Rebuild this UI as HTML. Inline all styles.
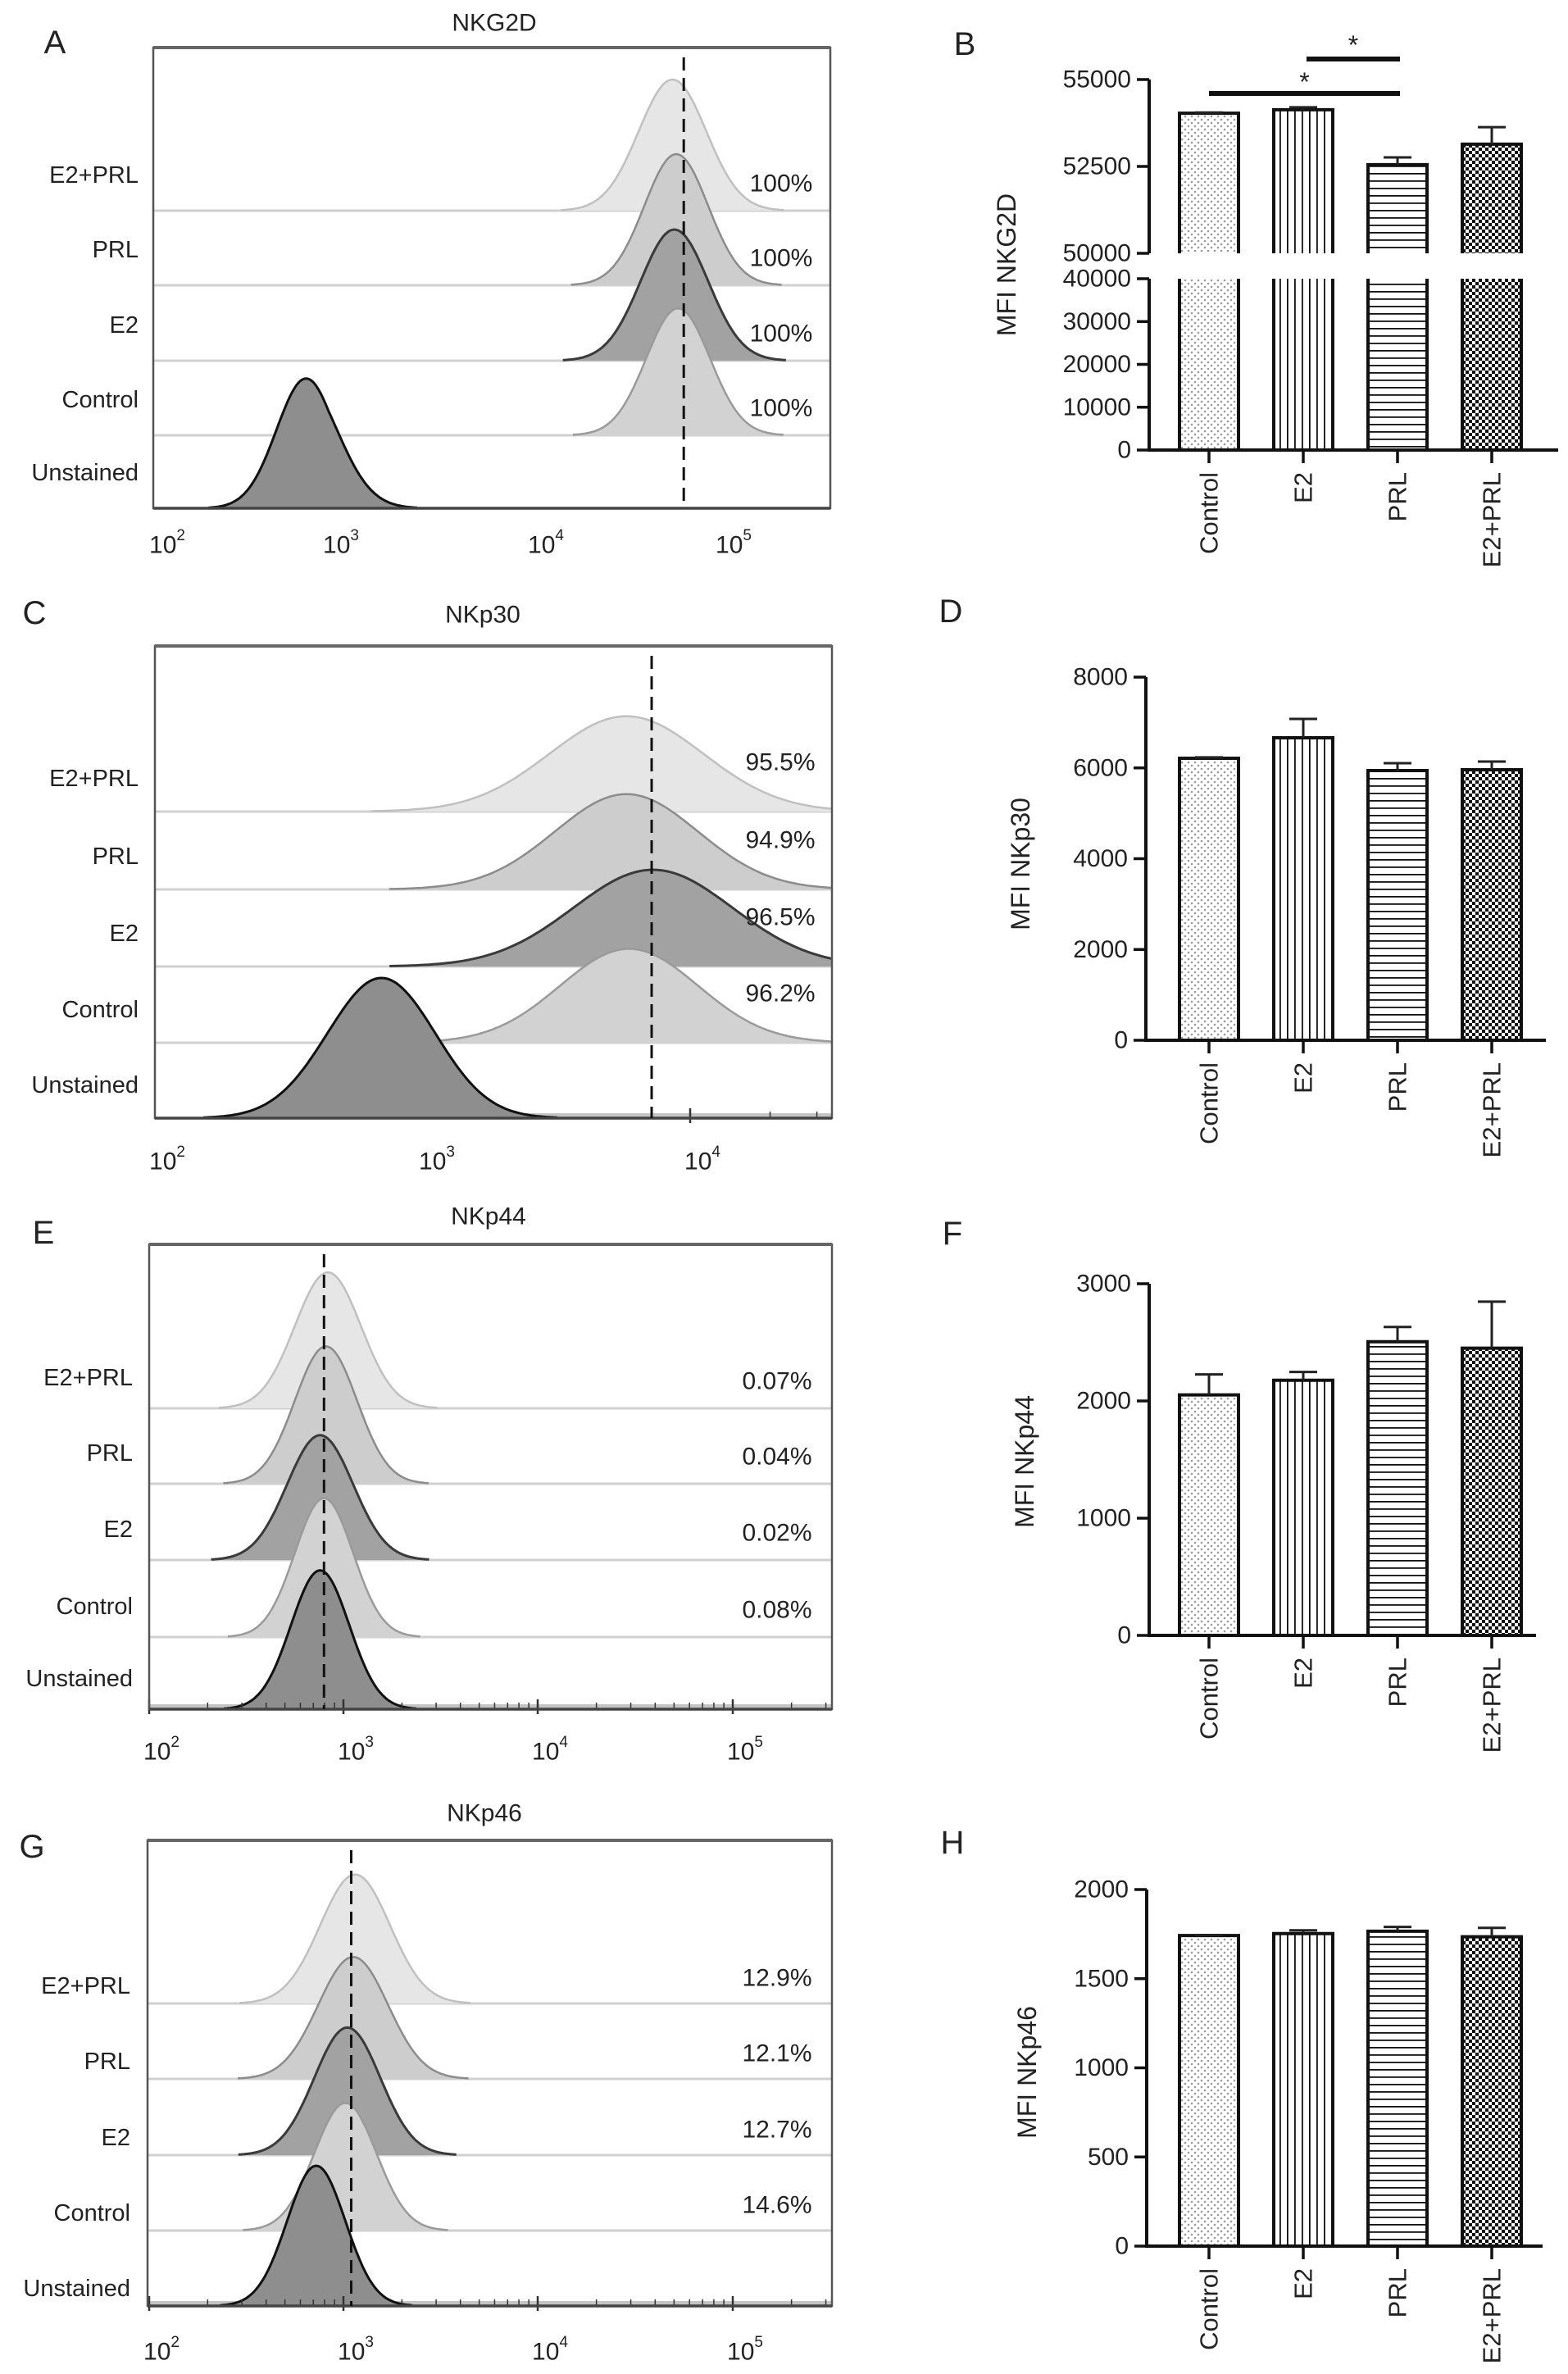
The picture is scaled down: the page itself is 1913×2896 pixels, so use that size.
<!DOCTYPE html>
<html><head><meta charset="utf-8"><style>
html,body{margin:0;padding:0;background:#fff}
svg{display:block;font-family:"Liberation Sans",Arial,sans-serif}
</style></head><body>
<svg id="fig" width="1913" height="2896" viewBox="0 0 1913 2896" xmlns="http://www.w3.org/2000/svg">
<defs>
<pattern id="pDots" width="8" height="8" patternUnits="userSpaceOnUse"><rect width="8" height="8" fill="#fff"/><circle cx="2" cy="2" r="1.3" fill="#999"/><circle cx="6" cy="6" r="1.3" fill="#999"/></pattern>
<pattern id="pV" width="9" height="9" patternUnits="userSpaceOnUse"><rect width="9" height="9" fill="#fff"/><rect x="4" width="1.8" height="9" fill="#111"/></pattern>
<pattern id="pH" width="9" height="9" patternUnits="userSpaceOnUse"><rect width="9" height="9" fill="#fff"/><rect y="4" width="9" height="1.8" fill="#111"/></pattern>
<pattern id="pC" width="8" height="8" patternUnits="userSpaceOnUse"><rect width="8" height="8" fill="#fff"/><rect width="4" height="4" fill="#111"/><rect x="4" y="4" width="4" height="4" fill="#111"/></pattern>
</defs>
</svg>
<script>
// ---------- data ----------
const categories = ['Control','E2','PRL','E2+PRL'];
const nkg2dMFI = [54030, 54130, 52550, 53140];
const nkg2dErr = [20, 70, 210, 490];
const nkp30MFI = [6212, 6664, 5941, 5960];
const nkp30Err = [20, 415, 163, 180];
const nkp44MFI = [2052, 2177, 2505, 2450];
const nkp44Err = [174, 70, 126, 397];
const nkp46MFI = [1742, 1753, 1766, 1735];
const nkp46Err = [3, 18, 24, 50];

const histRows = ['E2+PRL','PRL','E2','Control','Unstained'];
const nkg2dCenters = [4.74, 4.76, 4.75, 4.77, 2.87];
const nkg2dSpread = [0.18, 0.17, 0.18, 0.17, 0.17];
const nkg2dPeaks = [0.93, 0.93, 0.93, 0.90, 0.92];
const nkg2dPct = ['100%','100%','100%','100%'];
const nkg2dGate = 4.80;
const nkp30Centers = [3.76, 3.76, 3.86, 3.77, 2.84];
const nkp30Spread = [0.29, 0.27, 0.30, 0.26, 0.20];
const nkp30Peaks = [0.68, 0.68, 0.69, 0.67, 1.0];
const nkp30Pct = ['95.5%','94.9%','96.5%','96.2%'];
const nkp30Gate = 3.855;
const nkp44Centers = [2.92, 2.91, 2.88, 2.90, 2.88];
const nkp44Spread = [0.17, 0.16, 0.17, 0.15, 0.15];
const nkp44Peaks = [0.97, 0.98, 0.89, 0.99, 0.99];
const nkp44Pct = ['0.07%','0.04%','0.02%','0.08%'];
const nkp44Gate = 2.90;
const nkp46Centers = [3.06, 3.05, 3.02, 3.01, 2.86];
const nkp46Spread = [0.18, 0.18, 0.17, 0.16, 0.15];
const nkp46Peaks = [0.92, 0.87, 0.91, 0.91, 1.0];
const nkp46Pct = ['12.9%','12.1%','12.7%','14.6%'];
const nkp46Gate = 3.04;

const svg = document.getElementById('fig');
const NS = 'http://www.w3.org/2000/svg';
function mk(tag, attrs, parent){
  const e = document.createElementNS(NS, tag);
  for (const k in attrs) e.setAttribute(k, attrs[k]);
  (parent||svg).appendChild(e);
  return e;
}
function txt(s, x, y, size, anchor, parent){
  const t = mk('text', {x:x, y:y, 'font-size':size, 'text-anchor':anchor||'middle', 'dominant-baseline':'central', fill:'#222'}, parent);
  t.textContent = s;
  return t;
}

const rowFill = ['#e6e6e6','#cdcdcd','#a2a2a2','#d2d2d2','#8e8e8e'];
const rowStroke = ['#c0c0c0','#8c8c8c','#3a3a3a','#9a9a9a','#111'];
let clipN = 0;

// ---------- histogram panel ----------
function histPanel(cfg){
  const g = mk('g', {});
  
  
  const xs = cfg.decadeX, d0 = cfg.decade0;
  function X(lv){
    let i = Math.floor(lv - d0);
    if (i < 0) i = 0;
    if (i > xs.length - 2) i = xs.length - 2;
    return xs[i] + (lv - d0 - i) * (xs[i+1] - xs[i]);
  }
  const L = cfg.box[0], T = cfg.box[1], R = cfg.box[2], B = cfg.box[3];
  const cid = 'clip' + (clipN++);
  const cp = mk('clipPath', {id:cid}, svg.querySelector('defs'));
  mk('rect', {x:L, y:T, width:R-L, height:B-T}, cp);
  const inner = mk('g', {'clip-path':'url(#'+cid+')'}, g);
  const baselines = cfg.baselines;
  for (let r = 0; r < 4; r++){
    const ln = mk('line', {x1:L, x2:R, y1:baselines[r], y2:baselines[r], stroke:'#d0d0d0', 'stroke-width':3}, inner);
    
    
  }
  if (cfg.band){
    mk('rect', {x:X(cfg.band), y:B-6, width:R-X(cfg.band), height:6, fill:'#c4c4c4'}, inner);
    for (let d = Math.ceil(cfg.band); d < 6; d++){
      for (let m = 1; m < 10; m++){
        const lv = d + Math.log10(m);
        if (lv < cfg.band) continue;
        const x = X(lv);
        if (x > R) continue;
        mk('line', {x1:x, x2:x, y1:B-(m===1?12:8), y2:B+(m===1?6:0), stroke:'#333', 'stroke-width':m===1?2.5:1.5}, g);
      }
    }
  }
  for (let r = 0; r < 5; r++){
    const c = cfg.centers[r], s = cfg.spread[r], p = cfg.peaks[r] * cfg.peakPx;
    const by = r < 4 ? baselines[r] : B;
    let d = '';
    const lo = c - 3.3*s, hi = c + 3.3*s;
    const n = 120;
    for (let k = 0; k <= n; k++){
      const lv = lo + (hi-lo)*k/n;
      const z = (lv - c)/s;
      const y = by - p*Math.exp(-0.5*z*z);
      d += (k===0 ? 'M' : 'L') + X(lv).toFixed(1) + ',' + y.toFixed(1);
    }
    const area = mk('path', {d: d + 'L' + X(hi).toFixed(1) + ',' + by + 'L' + X(lo).toFixed(1) + ',' + by + 'Z', fill:rowFill[r], stroke:'none'}, inner);
    
    
    mk('path', {d:d, fill:'none', stroke:rowStroke[r], 'stroke-width': r>=2 && r!==3 ? 3 : 2.5}, inner);
  }
  const box = mk('rect', {x:L, y:T, width:R-L, height:B-T, fill:'none', stroke:'#555', 'stroke-width':2.5}, g);
  
  
  mk('line', {x1:L, x2:R, y1:T, y2:T, stroke:'#666', 'stroke-width':4}, g);
  mk('line', {x1:L, x2:R, y1:B, y2:B, stroke:'#444', 'stroke-width':3.5}, g);
  const gx = X(cfg.gate);
  const gl = mk('line', {x1:gx, x2:gx, y1:T+12, y2:B, stroke:'#111', 'stroke-width':3, 'stroke-dasharray':'16 9'}, g);
  
  
  for (let r = 0; r < 5; r++){
    const by = r < 4 ? baselines[r] : B;
    const t = txt(histRows[r], cfg.labelRight, by + cfg.labelOff, 29, 'end', g);
    
    
  }
  for (let r = 0; r < 4; r++){
    const t = txt(cfg.pct[r], cfg.pctX, baselines[r] + cfg.pctOff, 30, 'middle', g);
    
    
  }
  for (let i = 0; i < xs.length; i++){
    const t = mk('text', {x:xs[i]+15, y:cfg.tickY, 'font-size':30, 'text-anchor':'middle', 'dominant-baseline':'central', fill:'#222'}, g);
    
    
    t.appendChild(document.createTextNode('10'));
    const sp = document.createElementNS(NS, 'tspan');
    sp.setAttribute('font-size', 19);
    sp.setAttribute('dy', -12);
    sp.textContent = String(d0 + i);
    t.appendChild(sp);
  }
  const tt = txt(cfg.title, cfg.titleXY[0], cfg.titleXY[1], 30, 'middle', g);
  
  
  const lt = txt(cfg.letter, cfg.letterXY[0], cfg.letterXY[1], 40, 'middle', g);
  
  
}

histPanel({name:'panel-a-nkg2d-histogram', letter:'A', letterXY:[67,52], title:'NKG2D', titleXY:[603,28],
  box:[187,58,1013,620], baselines:[257,348,440,531], decade0:2, decadeX:[189,401,651,880],
  centers:nkg2dCenters, spread:nkg2dSpread, peaks:nkg2dPeaks, peakPx:172, pct:nkg2dPct, gate:nkg2dGate,
  labelRight:169, labelOff:-43, pctX:953, pctOff:-33, tickY:665, band:null});
histPanel({name:'panel-c-nkp30-histogram', letter:'C', letterXY:[42,748], title:'NKp30', titleXY:[589,750],
  box:[189,788,1015,1364], baselines:[990,1085,1179,1272], decade0:2, decadeX:[189,518,842],
  centers:nkp30Centers, spread:nkp30Spread, peaks:nkp30Peaks, peakPx:171, pct:nkp30Pct, gate:nkp30Gate,
  labelRight:169, labelOff:-40, pctX:952, pctOff:-60, tickY:1417, band:3.3});
histPanel({name:'panel-e-nkp44-histogram', letter:'E', letterXY:[53,1504], title:'NKp44', titleXY:[596,1484],
  box:[182,1518,1015,2085], baselines:[1718,1810,1903,1997], decade0:2, decadeX:[182,419,656,894],
  centers:nkp44Centers, spread:nkp44Spread, peaks:nkp44Peaks, peakPx:171, pct:nkp44Pct, gate:nkp44Gate,
  labelRight:162, labelOff:-37, pctX:948, pctOff:-33, tickY:2137, band:2.0});
histPanel({name:'panel-g-nkp46-histogram', letter:'G', letterXY:[39,2253], title:'NKp46', titleXY:[591,2212],
  box:[180,2245,1015,2813], baselines:[2444,2536,2629,2721], decade0:2, decadeX:[182,419,656,894],
  centers:nkp46Centers, spread:nkp46Spread, peaks:nkp46Peaks, peakPx:171, pct:nkp46Pct, gate:nkp46Gate,
  labelRight:159, labelOff:-21, pctX:948, pctOff:-31, tickY:2869, band:2.0});

// ---------- bar panels ----------
const barFills = ['url(#pDots)','url(#pV)','url(#pH)','url(#pC)'];
function barPanel(cfg){
  const g = mk('g', {});
  
  
  const ax = cfg.axisX, y0 = cfg.zeroY;
  const Y = cfg.Y;
  const barW = 72;
  function cx(i){ return 1475 + i*115; }
  for (let i = 0; i < categories.length; i++){
    const v = cfg.values[i], top = Y(v);
    const segs = cfg.segments ? cfg.segments(v) : [[top, y0]];
    segs.forEach(sg => {
      const b = mk('rect', {x:cx(i)-barW/2, y:sg[0], width:barW, height:sg[1]-sg[0], fill:barFills[i], stroke:'none'}, g);
      
      
      mk('line', {x1:cx(i)-barW/2, x2:cx(i)-barW/2, y1:sg[0], y2:sg[1], stroke:'#111', 'stroke-width':4}, g);
      mk('line', {x1:cx(i)+barW/2, x2:cx(i)+barW/2, y1:sg[0], y2:sg[1], stroke:'#111', 'stroke-width':4}, g);
    });
    mk('line', {x1:cx(i)-barW/2-2, x2:cx(i)+barW/2+2, y1:top, y2:top, stroke:'#111', 'stroke-width':4}, g);
    const ey = Y(v + cfg.errs[i]);
    const eb = mk('path', {d:'M'+cx(i)+','+top+'V'+ey+'M'+(cx(i)-17)+','+ey+'H'+(cx(i)+17), stroke:'#222', 'stroke-width':3, fill:'none'}, g);
    
    
    mk('line', {x1:cx(i), x2:cx(i), y1:y0, y2:y0+16, stroke:'#111', 'stroke-width':3.5}, g);
    const t = mk('text', {x:0, y:0, 'font-size':31, 'text-anchor':'end', 'dominant-baseline':'central', fill:'#222',
      transform:'translate('+cx(i)+','+(y0+27)+') rotate(-90)'}, g);
    t.textContent = categories[i];
    
    
  }
  const yAxisSegs = cfg.axisSegs || [[Y(cfg.ticks[cfg.ticks.length-1]), y0]];
  yAxisSegs.forEach(sg => {
    const a = mk('line', {x1:ax, x2:ax, y1:sg[0], y2:sg[1], stroke:'#111', 'stroke-width':4}, g);
    
    
  });
  const xa = mk('line', {x1:ax-2, x2:cfg.axisEnd, y1:y0, y2:y0, stroke:'#111', 'stroke-width':4}, g);
  
  
  cfg.ticks.forEach(tv => {
    const ty = Y(tv);
    mk('line', {x1:ax-15, x2:ax, y1:ty, y2:ty, stroke:'#111', 'stroke-width':3.5}, g);
    const t = txt(String(tv), ax-22, ty, 30, 'end', g);
    
    
  });
  const yt = mk('text', {x:0, y:0, 'font-size':32, 'text-anchor':'middle', 'dominant-baseline':'central', fill:'#222',
    transform:'translate('+cfg.titleXY[0]+','+cfg.titleXY[1]+') rotate(-90)'}, g);
  yt.textContent = cfg.yTitle;
  
  
  const lt = txt(cfg.letter, cfg.letterXY[0], cfg.letterXY[1], 40, 'middle', g);
  
  
  return {g:g, cx:cx};
}

function YB(v){ return v >= 50000 ? 309 - (v-50000)/5000*212 : 549 - v/40000*209; }
const pb = barPanel({name:'panel-b-nkg2d-mfi', letter:'B', letterXY:[1177,54], axisX:1402, zeroY:549, Y:YB,
  values:nkg2dMFI, errs:nkg2dErr, ticks:[0,10000,20000,30000,40000,50000,52500,55000],
  segments:function(v){ return [[YB(v),309],[340,549]]; }, axisSegs:[[97,309],[340,549]],
  axisEnd:1901, yTitle:'MFI NKG2D', titleXY:[1228,323]});
const sigPairs = [[1,2],[0,2]];
const sigY = [72, 114];
const sigStarY = [49, 94];
sigPairs.forEach((pr, k) => {
  const x1 = k===0 ? pb.cx(pr[0]) + 4 : pb.cx(pr[0]), x2 = pb.cx(pr[1]) + 3;
  const ln = mk('line', {x1:x1, x2:x2, y1:sigY[k], y2:sigY[k], stroke:'#111', 'stroke-width':6}, pb.g);
  
  
  const st = txt('*', (x1+x2)/2, sigStarY[k]+6, 32, 'middle', pb.g);
  
  
});

barPanel({name:'panel-d-nkp30-mfi', letter:'D', letterXY:[1160,746], axisX:1398, zeroY:1269,
  Y:function(v){ return 1269 - v/8000*443; }, values:nkp30MFI, errs:nkp30Err, ticks:[0,2000,4000,6000,8000],
  axisEnd:1886, yTitle:'MFI NKp30', titleXY:[1245,1054]});
barPanel({name:'panel-f-nkp44-mfi', letter:'F', letterXY:[1162,1505], axisX:1402, zeroY:1995,
  Y:function(v){ return 1995 - v/3000*429; }, values:nkp44MFI, errs:nkp44Err, ticks:[0,1000,2000,3000],
  axisEnd:1874, yTitle:'MFI NKp44', titleXY:[1250,1783]});
barPanel({name:'panel-h-nkp46-mfi', letter:'H', letterXY:[1162,2248], axisX:1399, zeroY:2740,
  Y:function(v){ return 2740 - v/2000*435; }, values:nkp46MFI, errs:nkp46Err, ticks:[0,500,1000,1500,2000],
  axisEnd:1882, yTitle:'MFI NKp46', titleXY:[1253,2528]});
</script>
</body></html>
